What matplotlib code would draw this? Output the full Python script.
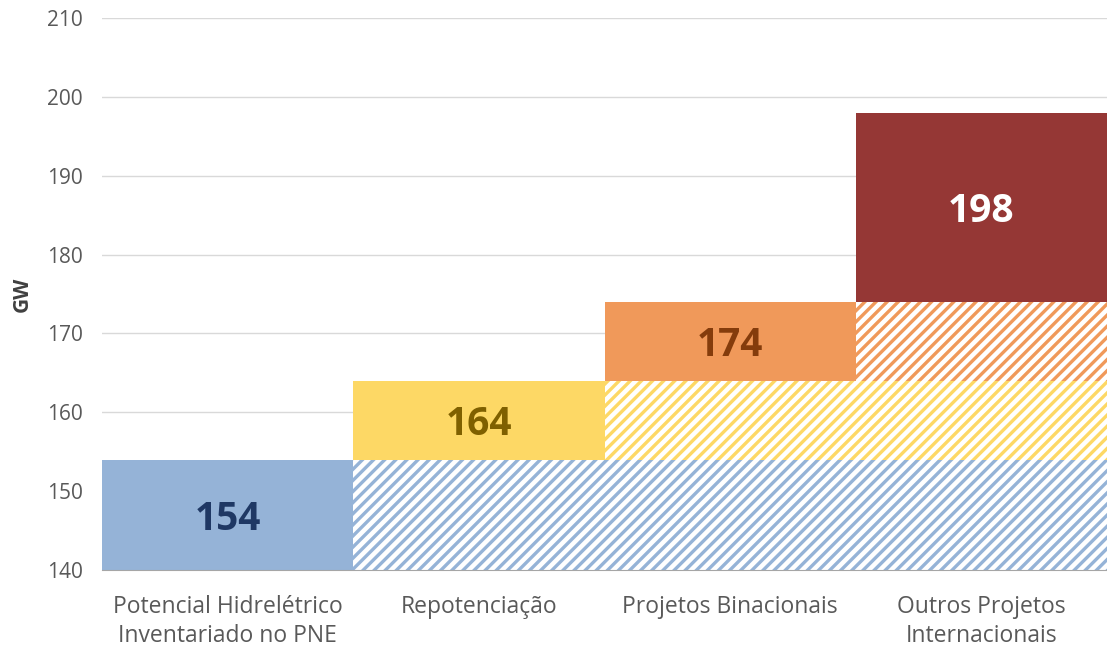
import matplotlib.pyplot as plt

# Potencial hidrelétrico acumulado (GW)
categorias = ["Potencial Hidrelétrico\nInventariado no PNE", "Repotenciação",
              "Projetos Binacionais", "Outros Projetos\nInternacionais"]
totais = [154, 164, 174, 198]
base = 140
cores = ["#95B3D7", "#FDD865", "#F0995A", "#953735"]
cores_texto = ["#1F3864", "#7F6000", "#843C0C", "#FFFFFF"]

plt.rcParams["font.family"] = ["Open Sans", "DejaVu Sans"]
plt.rcParams["hatch.linewidth"] = 2.4

fig = plt.figure(figsize=(11.07, 6.5), dpi=100)
ax = fig.add_axes([102 / 1107, 1 - 570 / 650, 1 - 102 / 1107, (570 - 18) / 650])

for j in range(len(categorias)):
    for i in range(j + 1):
        inferior = base if i == 0 else totais[i - 1]
        altura = totais[i] - inferior
        if i == j:
            ax.bar(j, altura, bottom=inferior, width=1.0, color=cores[i],
                   linewidth=0, zorder=3)
            ax.text(j, inferior + altura / 2, str(totais[i]), ha="center",
                    va="center_baseline", fontsize=28, fontweight="bold",
                    color=cores_texto[i], zorder=4)
        else:
            ax.bar(j, altura, bottom=inferior, width=1.0, facecolor="white",
                   edgecolor=cores[i], hatch="///", linewidth=0, zorder=3)

ax.set_xlim(-0.5, 3.5)
ax.set_ylim(140, 210)
ax.set_yticks(range(140, 211, 10))
ax.set_xticks(range(len(categorias)))
ax.set_xticklabels(categorias, fontsize=16.5, color="#595959", linespacing=1.3)
ax.tick_params(axis="y", labelsize=15, labelcolor="#595959", length=0, pad=14)
ax.tick_params(axis="x", length=0, pad=18)
ax.set_ylabel("GW", fontsize=15, fontweight="bold", color="#404040", labelpad=10)
ax.grid(axis="y", color="#D9D9D9", linewidth=1, zorder=0)
for lado in ["left", "right", "top"]:
    ax.spines[lado].set_visible(False)
ax.spines["bottom"].set_color("#A6A6A6")
ax.spines["bottom"].set_zorder(5)

fig.savefig("out.png", dpi=100)
